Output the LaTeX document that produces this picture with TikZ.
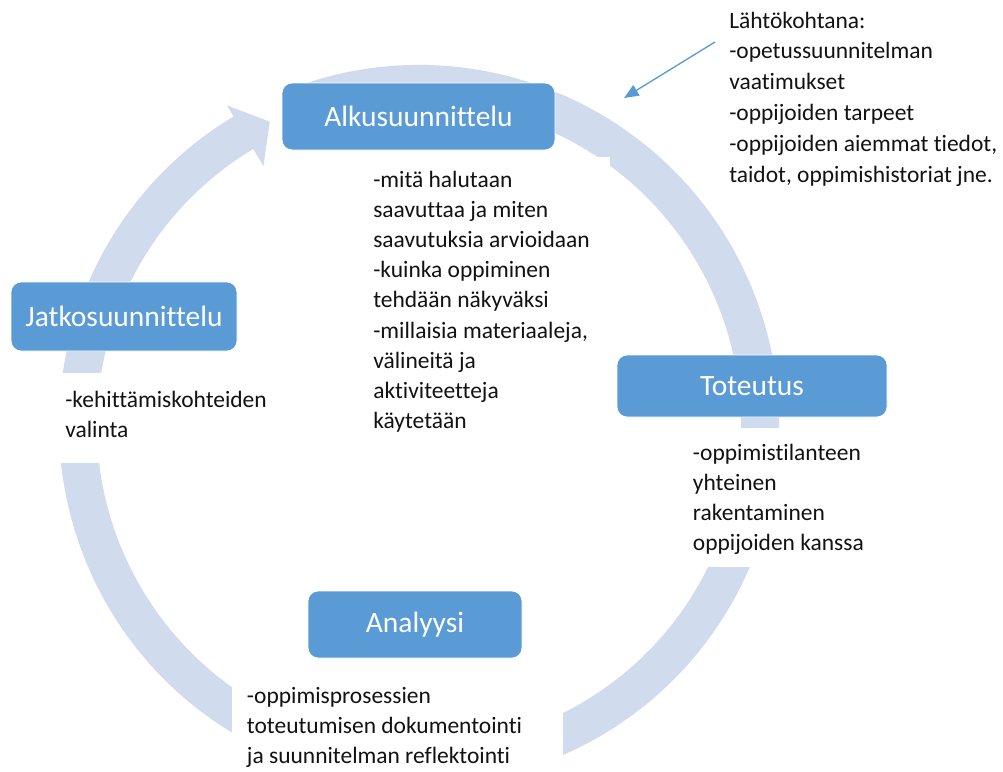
\documentclass[tikz,border=0pt]{standalone}
\usepackage{fontspec}
\setmainfont{Carlito}[Ligatures={NoCommon,NoContextual}]
\usetikzlibrary{arrows.meta,calc}
\definecolor{boxblue}{RGB}{91,155,213}
\definecolor{ringblue}{RGB}{209,219,238}
\definecolor{txt}{RGB}{18,18,18}
\begin{document}
\begin{tikzpicture}[x=0.75pt,y=-0.75pt,
  stage/.style={rounded corners=7.5pt, fill=boxblue, draw=white, line width=0.6pt,
    text=white, font=\fontsize{22.1}{26}\selectfont, inner sep=0pt},
  desc/.style={anchor=north west, align=left, inner sep=0pt, text=txt,
    font=\fontsize{17.6}{22.65}\selectfont},
  cover/.style={fill=white}]
\useasboundingbox (0,0) rectangle (1003,771);
\coordinate (C) at (419,425);
% ring arrow
\fill[ringblue] ($(C)+(250:360)$) arc[start angle=250, end angle=599, radius=360]
  -- ($(C)+(599:373)$) -- ($(C)+(603.8:338)$) -- ($(C)+(599:302)$)
  -- ($(C)+(599:322)$) arc[start angle=599, end angle=250, radius=322] -- cycle;
% white backgrounds of the text boxes
\fill[cover] (360,157) rectangle (610,450);
\fill[cover] (680,428) rectangle (890,567);
\fill[cover] (50,373) rectangle (290,463);
\fill[cover] (232,672) rectangle (563,800);
% stage boxes
\node[stage, minimum width=204.75pt, minimum height=50.25pt] (alku) at (418.5,116.5) {Alkusuunnittelu};
\node[stage, minimum width=169.5pt, minimum height=51.75pt] (jatko) at (124,316.5) {Jatkosuunnittelu};
\node[stage, minimum width=202.5pt, minimum height=46.5pt] (tote) at (752,386) {Toteutus};
\node[stage, minimum width=160.5pt, minimum height=50.25pt] (anal) at (415,624.5) {Analyysi};
% descriptions
\node[desc] (alkud) at (373,170.5) {-mitä halutaan\\saavuttaa ja miten\\saavutuksia arvioidaan\\-kuinka oppiminen\\tehdään näkyväksi\\-millaisia materiaaleja,\\välineitä ja\\aktiviteetteja\\käytetään};
\node[desc, font=\fontsize{17.6}{23.1}\selectfont] (lahto) at (729,11.5) {Lähtökohtana:\\-opetussuunnitelman\\vaatimukset\\-oppijoiden tarpeet\\-oppijoiden aiemmat tiedot,\\taidot, oppimishistoriat jne.};
\node[desc] (jatkod) at (65,390.5) {-kehittämiskohteiden\\valinta};
\node[desc] (toted) at (692.7,443.8) {-oppimistilanteen\\yhteinen\\rakentaminen\\oppijoiden kanssa};
\node[desc] (anald) at (246.7,686.8) {-oppimisprosessien\\toteutumisen dokumentointi\\ja suunnitelman reflektointi};
% pointer arrow
\coordinate (ptail) at (715,42);
\coordinate (ptip) at (624,98);
\draw[boxblue, line width=1pt, -{Triangle[length=11pt, width=9pt]}] (ptail) -- (ptip);
\end{tikzpicture}
\end{document}
